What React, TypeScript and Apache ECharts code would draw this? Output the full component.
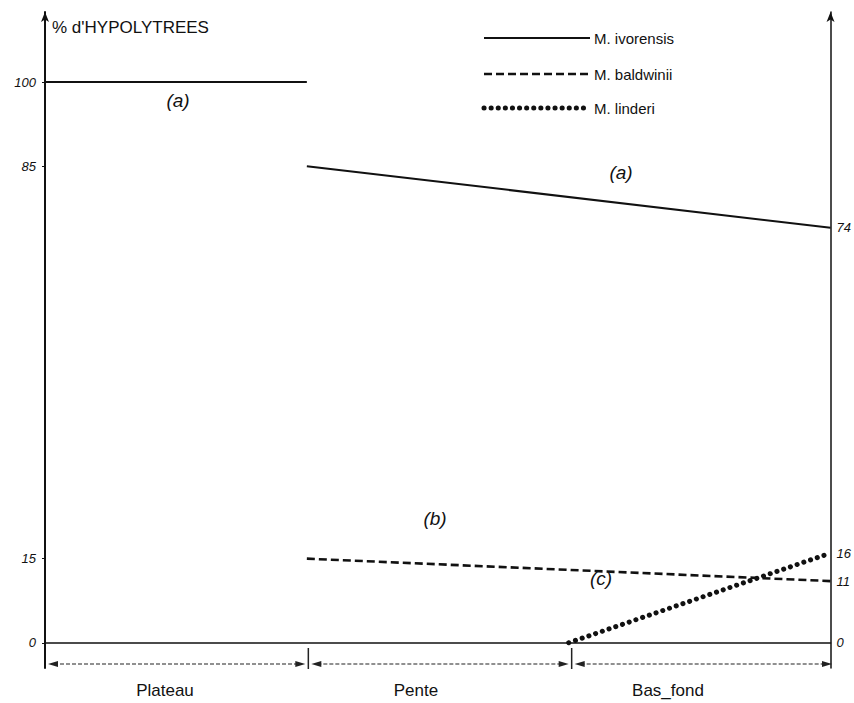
import React, { useEffect, useRef } from "react";
import * as echarts from "echarts";

// ---- data ----
const categories = ["Plateau", "Pente", "Bas_fond"];
const ivorensisPlateau: [number, number][] = [[0, 100], [1, 100]];
const ivorensisPenteBasFond: [number, number][] = [[1, 85], [3, 74]];
const baldwinii: [number, number][] = [[1, 15], [3, 11]];
const linderi: [number, number][] = [[2, 0], [3, 16]];
const leftTicks = [0, 15, 85, 100];
const rightTicks = [0, 11, 16, 74];
const seriesNames = ["M. ivorensis", "M. baldwinii", "M. linderi"];
const groupLetters = ["(a)", "(a)", "(b)", "(c)"];
const axisTitle = "% d'HYPOLYTREES";

const W = 854;
const H = 703;
const GL = 45, GR = 19, GT = 12, GB = 35;
const XMIN = 0, XMAX = 3, YMIN = -4.5, YMAX = 112.5;
const px = (x: number) => GL + ((x - XMIN) / (XMAX - XMIN)) * (W - GL - GR);

const FONT = "Liberation Sans";

const solidStyle = { color: "#111", width: 2 };
const dashStyle = { color: "#111", width: 2.6, type: [8, 4] as number[] };
const dotStyle = { color: "#111", width: 5, type: [0.1, 7] as number[], cap: "round" };

export default function App() {
  const ref = useRef<HTMLDivElement>(null);
  useEffect(() => {
    document.body.style.margin = "0";
    const chart = echarts.init(ref.current!, null, { renderer: "svg" });

    const graphic: any[] = [];
    // title
    graphic.push({
      type: "text", left: 52, top: 19,
      style: { text: axisTitle, font: `17px ${FONT}`, fill: "#111" },
    });
    // legend (hand drawn)
    const legendStyles = [
      { stroke: "#111", lineWidth: 2 },
      { stroke: "#111", lineWidth: 2.6, lineDash: [8, 4] },
      { stroke: "#111", lineWidth: 5, lineDash: [0.1, 7], lineCap: "round" },
    ];
    const legendY = [38, 74, 108];
    seriesNames.forEach((n, i) => {
      graphic.push({
        type: "line", shape: { x1: 484, y1: legendY[i], x2: 590, y2: legendY[i] },
        style: legendStyles[i],
      });
      graphic.push({
        type: "text", x: 594, y: legendY[i],
        style: { text: n, font: `15px ${FONT}`, fill: "#111", verticalAlign: "middle" },
      });
    });
    // letters
    const letterPos = [[178, 100], [621, 172], [435, 518], [601, 578]];
    groupLetters.forEach((t, i) => {
      graphic.push({
        type: "text", x: letterPos[i][0], y: letterPos[i][1],
        style: { text: t, font: `italic 19px ${FONT}`, fill: "#111", align: "center", verticalAlign: "middle" },
      });
    });
    // bottom dashed double arrows and boundary ticks
    const ay = 664;
    for (let i = 0; i < categories.length; i++) {
      const x0 = px(i) + 3, x1 = px(i + 1) - 3;
      graphic.push({
        type: "line", shape: { x1: x0 + 6, y1: ay, x2: x1 - 6, y2: ay },
        style: { stroke: "#222", lineWidth: 1.2, lineDash: [4, 2] },
      });
      graphic.push({
        type: "polygon", shape: { points: [[x0, ay], [x0 + 10, ay - 3], [x0 + 10, ay + 3]] },
        style: { fill: "#222" },
      });
      graphic.push({
        type: "polygon", shape: { points: [[x1, ay], [x1 - 10, ay - 3], [x1 - 10, ay + 3]] },
        style: { fill: "#222" },
      });
    }
    [1, 2].forEach((b) => {
      graphic.push({
        type: "line", shape: { x1: px(b), y1: 648, x2: px(b), y2: 669 },
        style: { stroke: "#222", lineWidth: 1.5 },
      });
    });
    // category labels
    const catX = [165, 416, 668];
    categories.forEach((c, i) => {
      graphic.push({
        type: "text", x: catX[i], y: 690,
        style: { text: c, font: `17px ${FONT}`, fill: "#111", align: "center", verticalAlign: "middle" },
      });
    });

    chart.setOption({
      animation: false,
      backgroundColor: "#fff",
      grid: { left: GL, right: GR, top: GT, bottom: GB },
      xAxis: {
        type: "value", min: XMIN, max: XMAX,
        axisLine: { show: true, onZero: true, lineStyle: { color: "#111", width: 1.5 } },
        axisTick: { show: false }, axisLabel: { show: false }, splitLine: { show: false },
      },
      yAxis: [
        {
          type: "value", min: YMIN, max: YMAX, position: "left",
          axisLine: { show: true, onZero: false, symbol: ["none", "arrow"], symbolSize: [6, 10], lineStyle: { color: "#111", width: 2 } },
          axisTick: { show: true, length: 3, customValues: leftTicks, lineStyle: { color: "#111" } },
          axisLabel: { customValues: leftTicks, margin: 9, fontFamily: FONT, fontStyle: "italic", fontSize: 13, color: "#111" },
          splitLine: { show: false },
        },
        {
          type: "value", min: YMIN, max: YMAX, position: "right",
          axisLine: { show: true, onZero: false, symbol: ["none", "arrow"], symbolSize: [6, 10], lineStyle: { color: "#111", width: 1.5 } },
          axisTick: { show: false },
          axisLabel: { customValues: rightTicks, margin: 6, fontFamily: FONT, fontStyle: "italic", fontSize: 13, color: "#111" },
          splitLine: { show: false },
        },
      ],
      series: [
        { name: seriesNames[0], type: "line", data: ivorensisPlateau, symbol: "none", lineStyle: solidStyle },
        { name: seriesNames[0], type: "line", data: ivorensisPenteBasFond, symbol: "none", lineStyle: solidStyle },
        { name: seriesNames[1], type: "line", data: baldwinii, symbol: "none", lineStyle: dashStyle },
        { name: seriesNames[2], type: "line", data: linderi, symbol: "none", lineStyle: dotStyle },
      ],
      graphic,
    });
    return () => chart.dispose();
  }, []);
  return <div ref={ref} style={{ width: W, height: H }} />;
}
